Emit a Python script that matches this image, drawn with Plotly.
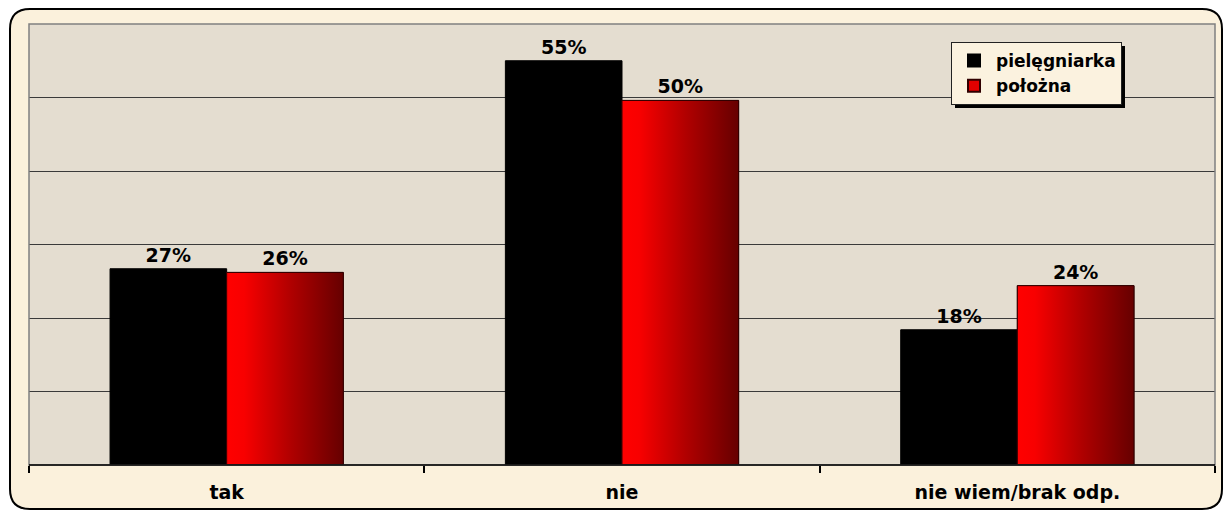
import plotly.graph_objects as go

categories = ["tak", "nie", "nie wiem/brak odp."]
series_names = ["pielęgniarka", "położna"]
pielegniarka = [0.267, 0.55, 0.184]
polozna = [0.262, 0.496, 0.244]

W, H = 1232, 515
L, R, T, B = 29, 17, 24, 50
PW, PH = W - L - R, H - T - B
BARGAP = 0.41
BW = (1 - BARGAP) / 2

FONT = "DejaVu Sans"

def px(x):
    return (x - L) / PW

def py(y):
    return (H - B - y) / PH

fig = go.Figure()
xs = list(range(len(categories)))

fig.add_trace(go.Bar(
    x=xs, y=pielegniarka, name=series_names[0],
    marker=dict(color="#000000", line=dict(color="#000000", width=1)),
    texttemplate="%{y:.0%}", textposition="outside",
    textfont=dict(family=FONT, size=19, color="#000000", weight="bold"),
    cliponaxis=False,
))
fig.add_trace(go.Bar(
    x=xs, y=polozna, name=series_names[1],
    marker=dict(color="#E00000", line=dict(color="#300000", width=1)),
    texttemplate="%{y:.0%}", textposition="outside",
    textfont=dict(family=FONT, size=19, color="#000000", weight="bold"),
    cliponaxis=False,
))

# gradient overlay for the red bars, derived from the data
for i, v in enumerate(polozna):
    x0, x1 = xs[i], xs[i] + BW
    fig.add_trace(go.Scatter(
        x=[x0, x1, x1, x0, x0], y=[0, 0, v, v, 0],
        mode="lines", fill="toself",
        line=dict(color="#300000", width=1),
        fillgradient=dict(type="horizontal",
                          colorscale=[[0, "#ff0000"], [0.15, "#f80000"],
                                      [0.55, "#b00000"], [1, "#660000"]]),
        showlegend=False, hoverinfo="skip",
    ))

def rounded(x0, y0, x1, y1, r):
    def P(x, y):
        return f"{px(x):.5f},{py(y):.5f}"
    return (f"M {P(x0 + r, y0)} L {P(x1 - r, y0)} Q {P(x1, y0)} {P(x1, y0 + r)} "
            f"L {P(x1, y1 - r)} Q {P(x1, y1)} {P(x1 - r, y1)} "
            f"L {P(x0 + r, y1)} Q {P(x0, y1)} {P(x0, y1 - r)} "
            f"L {P(x0, y0 + r)} Q {P(x0, y0)} {P(x0 + r, y0)} Z")

shapes = [
    dict(type="path", xref="paper", yref="paper", layer="below",
         path=rounded(10, 9, 1222, 509, 20),
         fillcolor="#FBF1DC", line=dict(color="#000000", width=2)),
    dict(type="rect", xref="paper", yref="paper", layer="below",
         x0=0, x1=1, y0=0, y1=1, fillcolor="#E4DDD0", line=dict(width=0)),
    dict(type="rect", xref="paper", yref="paper", layer="above",
         x0=0, x1=1, y0=0, y1=1, line=dict(color="#808080", width=1.5)),
    dict(type="line", xref="paper", yref="paper", layer="above",
         x0=0, x1=1, y0=0, y1=0, line=dict(color="#000000", width=1.5)),
    # legend shadow
    dict(type="rect", xref="paper", yref="paper", layer="above",
         x0=px(955), x1=px(1125), y0=py(108), y1=py(46),
         fillcolor="#000000", line=dict(width=0)),
]

fig.update_layout(
    width=W, height=H,
    margin=dict(l=L, r=R, t=T, b=B),
    paper_bgcolor="#FFFFFF",
    plot_bgcolor="#E4DDD0",
    barmode="group", bargap=BARGAP, bargroupgap=0,
    showlegend=True,
    legend=dict(x=px(951), y=py(42), xanchor="left", yanchor="top",
                bgcolor="#FBF2DF", bordercolor="#222222", borderwidth=1,
                font=dict(family=FONT, size=17, color="#000000", weight="bold"),
                itemsizing="constant", tracegroupgap=0, itemwidth=34),
    xaxis=dict(range=[-0.5, 2.5], tickvals=xs, ticktext=categories,
               ticks="", showgrid=False, zeroline=False,
               showline=False, ticklabelstandoff=14,
               tickfont=dict(family=FONT, size=19, color="#000000", weight="bold"),
               minor=dict(tickvals=[-0.5, 0.5, 1.5, 2.5], ticks="outside",
                          ticklen=7, tickcolor="#000000", tickwidth=1.5,
                          showgrid=False)),
    yaxis=dict(range=[0, 0.6], dtick=0.1, showticklabels=False,
               showgrid=True, gridcolor="#3a3a3a", gridwidth=1,
               zeroline=False, showline=False, ticks=""),
    shapes=shapes,
)

fig.write_html("out.html", config={"displayModeBar": False},
               post_script="document.body.style.margin='0';")
